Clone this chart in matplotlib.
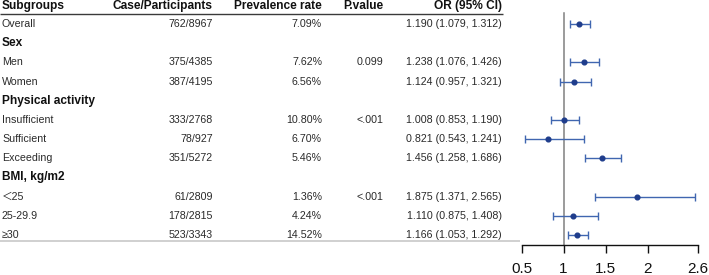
import matplotlib
matplotlib.use("Agg")
import matplotlib.pyplot as plt
import matplotlib.transforms as mtransforms
import numpy as np

plt.rcParams["font.family"] = ["Liberation Sans", "Noto Sans CJK SC", "DejaVu Sans"]

# table data (one entry per row below the header)
labels = ["Overall", "Sex", "Men", "Women", "Physical activity", "Insufficient",
          "Sufficient", "Exceeding", "BMI, kg/m2", "＜25", "25-29.9", "≥30"]
is_section = [False, True, False, False, True, False, False, False, True, False, False, False]
cases = ["762/8967", "", "375/4385", "387/4195", "", "333/2768", "78/927", "351/5272",
         "", "61/2809", "178/2815", "523/3343"]
prevalence = ["7.09%", "", "7.62%", "6.56%", "", "10.80%", "6.70%", "5.46%",
              "", "1.36%", "4.24%", "14.52%"]
pvalues = ["", "", "0.099", "", "", "<.001", "", "", "", "<.001", "", ""]
odds = [1.190, np.nan, 1.238, 1.124, np.nan, 1.008, 0.821, 1.456, np.nan, 1.875, 1.110, 1.166]
ci_low = [1.079, np.nan, 1.076, 0.957, np.nan, 0.853, 0.543, 1.258, np.nan, 1.371, 0.875, 1.053]
ci_high = [1.312, np.nan, 1.426, 1.321, np.nan, 1.190, 1.241, 1.686, np.nan, 2.565, 1.408, 1.292]
xticks = [0.5, 1, 1.5, 2, 2.6]
xtick_labels = ["0.5", "1", "1.5", "2", "2.6"]
headers = ["Subgroups", "Case/Participants", "Prevalence rate", "P.value", "OR (95% CI)"]

W, H = 709, 275
fig = plt.figure(figsize=(W / 100, H / 100), dpi=100)

# forest axes: x 0.5..2.6 spans px 521.5..698, spine at px 245
ax = fig.add_axes([521.5 / W, (H - 245) / H, 176.5 / W, 245 / H])
ax.set_xlim(0.5, 2.6)
ax.set_ylim(12.52, -0.251)

rows = np.arange(1, len(labels) + 1)
trans = mtransforms.blended_transform_factory(fig.transFigure, ax.transData)
body = dict(transform=trans, va="center", fontsize=7.7, color="#2a2a2a", clip_on=False)
bold = dict(transform=trans, va="center", fontsize=8.6, fontweight="bold",
            color="#111111", clip_on=False)

# header
hx = [2, 213, 322, 343, 502]
ha = ["left", "right", "right", "left", "right"]
for txt, x, a in zip(headers, hx, ha):
    ax.text(x / W, 0.07, txt, ha=a, **bold)
ax.plot([0, 503 / W], [0.48, 0.48], transform=trans, color="#3a3a3a", lw=1.0,
        clip_on=False, solid_capstyle="butt")
ax.plot([0, 520 / W], [12.31, 12.31], transform=trans, color="#c8c8c8", lw=1.2,
        clip_on=False, solid_capstyle="butt")

for r, lab, sec, c, p, pv, o, lo, hi in zip(rows, labels, is_section, cases, prevalence,
                                             pvalues, odds, ci_low, ci_high):
    if sec:
        ax.text(2 / W, r, lab, ha="left", **bold)
        continue
    ax.text(2 / W, r, lab, ha="left", **body)
    ax.text(213 / W, r, c, ha="right", **body)
    ax.text(322 / W, r, p, ha="right", **body)
    ax.text(383 / W, r, pv, ha="right", **body)
    ax.text(502 / W, r, f"{o:.3f} ({lo:.3f}, {hi:.3f})", ha="right", **body)

# reference line at OR = 1
ax.plot([1, 1], [0.43, 12.52], color="#808080", lw=1.1, zorder=1)

odds = np.array(odds)
lo = np.array(ci_low)
hi = np.array(ci_high)
ok = ~np.isnan(odds)
ax.errorbar(odds[ok], rows[ok], xerr=[odds[ok] - lo[ok], hi[ok] - odds[ok]],
            fmt="none", ecolor="#4066b0", elinewidth=1.0, capsize=2.6, capthick=1.0,
            zorder=2)
ax.plot(odds[ok], rows[ok], "o", color="#1f3d8c", ms=3.4, zorder=3)

for s in ["top", "right", "left"]:
    ax.spines[s].set_visible(False)
ax.spines["bottom"].set_linewidth(1.0)
ax.spines["bottom"].set_color("#111111")
ax.set_yticks([])
ax.set_xticks(xticks, xtick_labels)
ax.tick_params(axis="x", direction="out", length=6, width=1.0, pad=6,
               labelsize=11, colors="#111111")
ax.patch.set_visible(False)

fig.savefig("out.png", dpi=100)
